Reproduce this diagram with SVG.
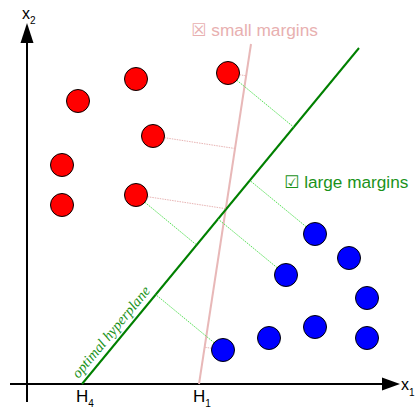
<svg xmlns="http://www.w3.org/2000/svg" width="416" height="408" viewBox="0 0 416 408">
<style>
.lbl{font-family:"Liberation Sans",Arial,sans-serif;fill:#000}
.red{fill:#ff0000;stroke:#000;stroke-width:1}
.blue{fill:#0000ff;stroke:#000;stroke-width:1}
.gdot{stroke:#55e055;stroke-width:1;stroke-dasharray:1.5 1;fill:none}
.pdot{stroke:#e8b4b4;stroke-width:1;stroke-dasharray:1.5 1;fill:none}
</style>
<rect width="416" height="408" fill="#fff"/>
<g id="axes">
<line x1="27" y1="402" x2="27" y2="40" stroke="#000" stroke-width="2"/>
<polygon points="27,23 20.5,43 33.5,43" fill="#000"/>
<line x1="10" y1="384" x2="384" y2="384" stroke="#000" stroke-width="2"/>
<polygon points="400,384 382,377.5 382,390.5" fill="#000"/>
<text class="lbl" x="22" y="19" font-size="16">x<tspan font-size="10" dy="5">2</tspan></text>
<text class="lbl" x="401" y="390" font-size="16">x<tspan font-size="10" dy="6">1</tspan></text>
<text class="lbl" x="76" y="402" font-size="17">H<tspan font-size="10" dy="5">4</tspan></text>
<text class="lbl" x="193" y="402" font-size="17">H<tspan font-size="10" dy="5">1</tspan></text>
</g>
<g id="connectors">
<line id="H1" x1="199" y1="384" x2="251" y2="44" stroke="#e8b8b8" stroke-width="2"/>
<line id="H4" x1="82" y1="384" x2="359" y2="48" stroke="#008000" stroke-width="2"/>
<line class="gdot" x1="236.9" y1="80.3" x2="293.7" y2="127.1"/>
<line class="gdot" x1="144.9" y1="202.3" x2="196.6" y2="245"/>
<line class="gdot" x1="214.1" y1="342.7" x2="155.7" y2="294.6"/>
<line class="gdot" x1="306.1" y1="226.7" x2="249.8" y2="180.4"/>
<line class="gdot" x1="277.1" y1="267.7" x2="218" y2="219"/>
<line class="pdot" x1="164.4" y1="137.7" x2="235" y2="148.5"/>
<line class="pdot" x1="147.4" y1="196.7" x2="225.8" y2="208.7"/>
<line class="pdot" x1="239.4" y1="74.7" x2="246.1" y2="75.8"/>
<line class="pdot" x1="211.6" y1="348.3" x2="204.6" y2="347.2"/>
</g>
<g id="labels">
<text x="191" y="36" font-family="'Liberation Sans','DejaVu Sans',sans-serif" font-size="17.3" fill="#e8b0b0">☒ small margins</text>
<text x="284" y="188" font-family="'Liberation Sans','DejaVu Sans',sans-serif" font-size="17.2" fill="#1a921a">☑ large margins</text>
<text transform="translate(78.5,379) rotate(-50.5)" font-family="'Liberation Serif',serif" font-style="italic" font-size="14.6" fill="#1a921a">optimal hyperplane</text>
</g>
<g id="red-points">
<circle id="r1" class="red" cx="228" cy="73" r="11.5"/>
<circle id="r2" class="red" cx="136" cy="79" r="11.5"/>
<circle id="r3" class="red" cx="78" cy="101" r="11.5"/>
<circle id="r4" class="red" cx="153" cy="136" r="11.5"/>
<circle id="r5" class="red" cx="62" cy="165" r="11.5"/>
<circle id="r6" class="red" cx="136" cy="195" r="11.5"/>
<circle id="r7" class="red" cx="62" cy="205" r="11.5"/>
</g>
<g id="blue-points">
<circle id="b1" class="blue" cx="315" cy="234" r="11.5"/>
<circle id="b2" class="blue" cx="349" cy="258" r="11.5"/>
<circle id="b3" class="blue" cx="286" cy="275" r="11.5"/>
<circle id="b4" class="blue" cx="367" cy="298" r="11.5"/>
<circle id="b5" class="blue" cx="315" cy="327" r="11.5"/>
<circle id="b6" class="blue" cx="269" cy="338" r="11.5"/>
<circle id="b7" class="blue" cx="367" cy="338" r="11.5"/>
<circle id="b8" class="blue" cx="223" cy="350" r="11.5"/>
</g>
</svg>
